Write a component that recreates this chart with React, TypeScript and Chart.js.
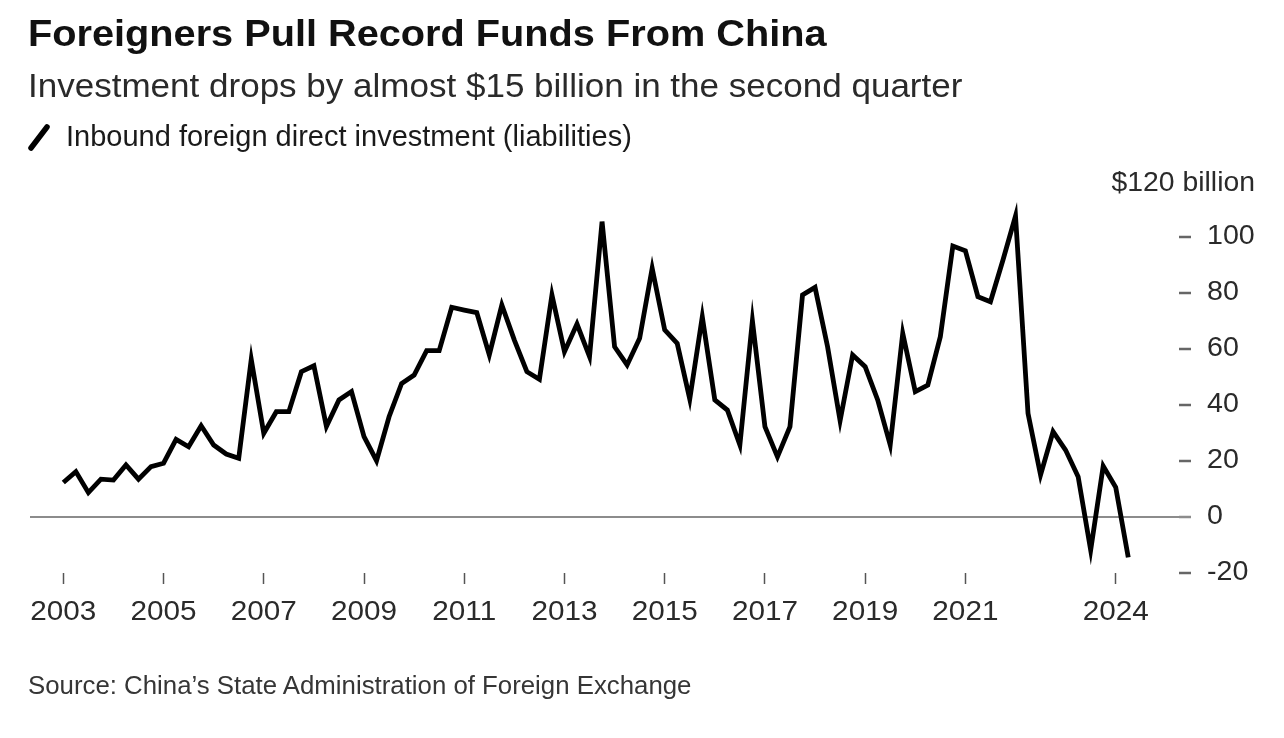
import React, { useEffect, useRef } from "react";
import { Chart, registerables } from "chart.js";

Chart.register(...registerables);

// ---- Data ----
const startYear = 2003;
// Quarterly inbound FDI (liabilities), $ billion, 2003 Q1 .. 2024 Q2
const fdiValues: number[] = [
  12.3, 16.2, 8.7, 13.5, // 2003
  13.2, 18.6, 13.5, 18.0, // 2004
  19.2, 27.7, 25.1, 32.6, // 2005
  25.7, 22.5, 21.0, 56.3, // 2006
  29.9, 37.6, 37.6, 51.9, // 2007
  54.0, 32.3, 41.8, 44.8, // 2008
  28.7, 20.1, 35.8, 47.7, // 2009
  50.7, 59.4, 59.4, 74.9, // 2010
  73.9, 73.0, 57.9, 75.7, // 2011
  63.2, 51.9, 49.2, 79.3, // 2012
  59.0, 68.9, 57.3, 105.5, // 2013
  60.8, 54.3, 63.8, 88.8, // 2014
  66.8, 62.0, 42.1, 71.5, // 2015
  41.8, 38.2, 25.7, 70.1, // 2016
  32.3, 21.5, 32.3, 79.3, // 2017
  82.0, 60.8, 34.4, 57.9, // 2018
  53.7, 41.8, 25.7, 65.6, // 2019
  44.8, 47.1, 64.4, 96.8, // 2020
  95.1, 78.7, 76.9, 91.8, // 2021
  107.5, 37.0, 15.0, 30.5, // 2022
  23.9, 14.4, -11.8, 18.2, // 2023
  10.6, -14.4, // 2024
];
const xTickYears: number[] = [2003, 2005, 2007, 2009, 2011, 2013, 2015, 2017, 2019, 2021, 2024];
const yTickValues: number[] = [-20, 0, 20, 40, 60, 80, 100];
const yTopValue = 120;
const yTopLabel = "$120 billion";

const title = "Foreigners Pull Record Funds From China";
const subtitle = "Investment drops by almost $15 billion in the second quarter";
const legendLabel = "Inbound foreign direct investment (liabilities)";
const sourceText = "Source: China\u2019s State Administration of Foreign Exchange";

const FONT = "'Liberation Sans', Arial, Helvetica, sans-serif";
const LABEL_COLOR = "#2a2a2a";

function drawStretched(ctx: CanvasRenderingContext2D, text: string, x: number, y: number, sx: number, align: CanvasTextAlign, baseline: CanvasTextBaseline) {
  ctx.save();
  ctx.translate(x, y);
  ctx.scale(sx, 1);
  ctx.textAlign = align;
  ctx.textBaseline = baseline;
  ctx.fillText(text, 0, 0);
  ctx.restore();
}

const axisLabelPlugin = {
  id: "axisLabels",
  afterDraw(chart: any) {
    const ctx: CanvasRenderingContext2D = chart.ctx;
    const xs = chart.scales.x;
    const ys = chart.scales.y;
    const area = chart.chartArea;
    ctx.save();
    ctx.fillStyle = LABEL_COLOR;
    ctx.font = `27px ${FONT}`;
    xs.ticks.forEach((t: any) => {
      const label = String(startYear + Math.round(t.value / 4));
      drawStretched(ctx, label, xs.getPixelForValue(t.value), area.bottom + 47, 1.1, "center", "alphabetic");
    });
    ys.ticks.forEach((t: any) => {
      drawStretched(ctx, String(t.value), area.right + 28, ys.getPixelForValue(t.value), 1.06, "left", "middle");
    });
    drawStretched(ctx, yTopLabel, 1255, ys.getPixelForValue(yTopValue) + 3, 1.05, "right", "middle");
    ctx.restore();
  },
};

export default function App() {
  const canvasRef = useRef<HTMLCanvasElement | null>(null);

  useEffect(() => {
    if (!canvasRef.current) return;
    const points = fdiValues.map((v, i) => ({ x: i, y: v }));
    const chart = new Chart(canvasRef.current, {
      type: "line",
      data: {
        datasets: [
          {
            label: legendLabel,
            data: points,
            borderColor: "#000000",
            borderWidth: 4.8,
            pointRadius: 0,
            tension: 0,
            borderJoinStyle: "miter",
            borderCapStyle: "butt",
          } as any,
        ],
      },
      options: {
        animation: false,
        responsive: false,
        maintainAspectRatio: false,
        layout: { padding: { left: 30, right: 0, top: 181, bottom: 0 } },
        plugins: { legend: { display: false }, tooltip: { enabled: false } },
        scales: {
          x: {
            type: "linear",
            min: -2.66,
            max: 89.05,
            afterBuildTicks: (scale: any) => {
              scale.ticks = xTickYears.map((yr) => ({ value: (yr - startYear) * 4 }));
            },
            afterFit: (scale: any) => {
              scale.height = 165;
              scale.paddingLeft = 0;
              scale.paddingRight = 0;
            },
            grid: {
              display: true,
              drawOnChartArea: false,
              drawTicks: true,
              tickLength: 11,
              tickColor: "#555555",
              tickWidth: 1.5,
            },
            border: { display: false },
            ticks: { display: false, autoSkip: false, maxRotation: 0 },
          },
          y: {
            position: "right",
            min: -20,
            max: yTopValue,
            afterBuildTicks: (scale: any) => {
              scale.ticks = yTickValues.map((v) => ({ value: v }));
            },
            afterFit: (scale: any) => {
              scale.width = 105;
              scale.paddingTop = 0;
              scale.paddingBottom = 0;
            },
            grid: {
              display: true,
              drawOnChartArea: true,
              drawTicks: true,
              tickLength: 12,
              color: (ctx: any) => (ctx.tick && ctx.tick.value === 0 ? "#8c8c8c" : "rgba(0,0,0,0)"),
              lineWidth: 2,
              tickColor: (ctx: any) => (ctx.tick && ctx.tick.value === 0 ? "#8c8c8c" : "#666666"),
              tickWidth: 2.5,
            },
            border: { display: false },
            ticks: { display: false },
          },
        },
      } as any,
      plugins: [axisLabelPlugin],
    });
    return () => chart.destroy();
  }, []);

  const stretch = (k: number): React.CSSProperties => ({
    transform: `scaleX(${k})`,
    transformOrigin: "left center",
  });

  return (
    <div
      style={{
        position: "absolute",
        left: 0,
        top: 0,
        width: 1284,
        height: 738,
        background: "#ffffff",
        fontFamily: FONT,
        overflow: "hidden",
      }}
    >
      <canvas
        ref={canvasRef}
        width={1284}
        height={738}
        style={{ position: "absolute", left: 0, top: 0, width: 1284, height: 738 }}
      />
      <div
        style={{
          position: "absolute",
          left: 28,
          top: 15,
          fontSize: 37,
          lineHeight: "37px",
          fontWeight: 700,
          color: "#111111",
          whiteSpace: "nowrap",
          ...stretch(1.073),
        }}
      >
        {title}
      </div>
      <div
        style={{
          position: "absolute",
          left: 28,
          top: 68,
          fontSize: 34,
          lineHeight: "34px",
          color: "#2a2a2a",
          whiteSpace: "nowrap",
          ...stretch(1.03),
        }}
      >
        {subtitle}
      </div>
      <svg width={34} height={34} style={{ position: "absolute", left: 22, top: 120 }}>
        <line x1={9} y1={28} x2={25} y2={7} stroke="#000" strokeWidth={5.5} strokeLinecap="round" />
      </svg>
      <div
        style={{
          position: "absolute",
          left: 66,
          top: 122,
          fontSize: 29,
          lineHeight: "29px",
          color: "#1a1a1a",
          whiteSpace: "nowrap",
        }}
      >
        {legendLabel}
      </div>
      <div
        style={{
          position: "absolute",
          left: 28,
          top: 673,
          fontSize: 25.8,
          lineHeight: "25.8px",
          color: "#363636",
          whiteSpace: "nowrap",
        }}
      >
        {sourceText}
      </div>
    </div>
  );
}
